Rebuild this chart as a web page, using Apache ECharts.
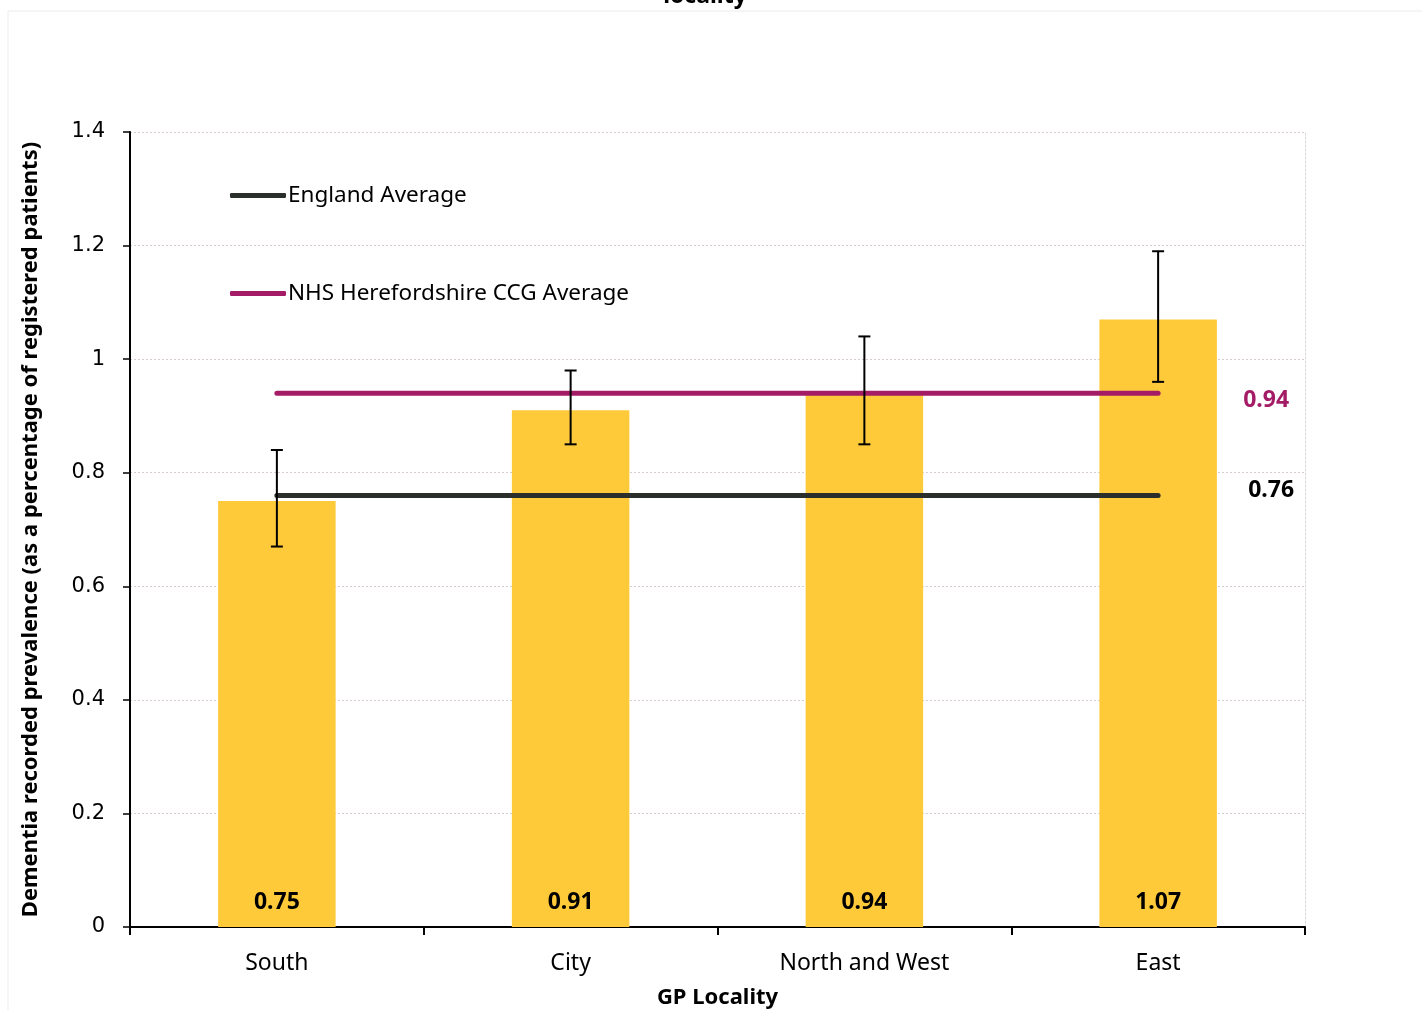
<!DOCTYPE html>
<html>
<head>
<meta charset="utf-8">
<script src="https://cdn.jsdelivr.net/npm/echarts@6/dist/echarts.min.js"></script>
<style>html,body{margin:0;padding:0;background:#fff}#c{width:1422px;height:1010px}</style>
</head>
<body>
<div id="c"></div>
<script>
var categories = ['South', 'City', 'North and West', 'East'];
var prevalence = [0.75, 0.91, 0.94, 1.07];
var ciLow = [0.67, 0.85, 0.85, 0.96];
var ciHigh = [0.84, 0.98, 1.04, 1.19];
var englandAvg = [0.76, 0.76, 0.76, 0.76];
var ccgAvg = [0.94, 0.94, 0.94, 0.94];
var yTicks = [0, 0.2, 0.4, 0.6, 0.8, 1, 1.2, 1.4];

var errData = categories.map(function (c, i) { return [i, ciLow[i], ciHigh[i]]; });

var chart = echarts.init(document.getElementById('c'), null, {renderer: 'canvas'});
chart.setOption({
  animation: false,
  graphic: [
    {type: 'rect', shape: {x: 8, y: 11, width: 1430, height: 1020}, style: {fill: 'none', stroke: '#ececec', lineWidth: 1}, silent: true},
    {type: 'text', x: 705, y: -4, style: {text: 'locality', font: 'bold 23px "Noto Sans"', fill: '#000', textAlign: 'center', textVerticalAlign: 'middle'}}
  ],
  grid: {left: 130, right: 117, top: 132, bottom: 83, containLabel: false, outerBoundsMode: 'none'},
  legend: {
    orient: 'vertical', left: 225, top: 179, itemGap: 75, itemWidth: 56, itemHeight: 5,
    icon: 'roundRect',
    textStyle: {fontFamily: 'Noto Sans', fontSize: 22.5, color: '#000', padding: [0, 0, 0, -3]},
    data: ['England Average', 'NHS Herefordshire CCG Average']
  },
  xAxis: {
    type: 'category', data: categories, boundaryGap: true,
    axisLine: {lineStyle: {color: '#000', width: 2}},
    axisTick: {show: true, length: 8, lineStyle: {color: '#000', width: 2}},
    axisLabel: {fontFamily: 'Noto Sans', fontSize: 23, color: '#000', margin: 25},
    name: 'GP Locality', nameLocation: 'middle', nameGap: 60,
    nameTextStyle: {fontFamily: 'Noto Sans', fontSize: 22, fontWeight: 'bold', color: '#000'}
  },
  yAxis: [{
    type: 'value', min: 0, max: 1.4, interval: 0.2,
    axisLine: {show: true, lineStyle: {color: '#000', width: 2}},
    axisTick: {show: true, length: 7, lineStyle: {color: '#000', width: 1.5}},
    axisLabel: {fontFamily: 'DejaVu Sans', fontSize: 21, color: '#000', margin: 25,
      formatter: function (v) { return String(Math.round(v * 10) / 10); }},
    splitLine: {show: true, lineStyle: {color: '#d8cccc', type: [2, 2], width: 1}},
    name: 'Dementia recorded prevalence (as a percentage of registered patients)',
    nameLocation: 'middle', nameGap: 88, nameRotate: 90,
    nameTextStyle: {fontFamily: 'Noto Sans', fontSize: 22, fontWeight: 'bold', color: '#000'}
  }, {
    type: 'value', min: 0, max: 1.4, interval: 0.2, position: 'right',
    axisLine: {show: true, lineStyle: {color: '#d8d8d8', type: [2, 2], width: 1}},
    axisTick: {show: false}, axisLabel: {show: false}, splitLine: {show: false}
  }],
  series: [
    {
      type: 'bar', data: prevalence, barWidth: '40%', z: 1,
      itemStyle: {color: '#FFCA3A'},
      label: {show: true, position: 'insideBottom', distance: 13, fontFamily: 'Noto Sans', fontSize: 23, fontWeight: 'bold', color: '#000',
        formatter: function (p) { return p.value.toFixed(2); }}
    },
    {
      name: 'England Average', type: 'line', data: englandAvg, symbol: 'none', z: 3,
      lineStyle: {color: '#2A2F2C', width: 5, cap: 'round'}, itemStyle: {color: '#2A2F2C'},
      endLabel: {show: true, offset: [82, -5], fontFamily: 'Noto Sans', fontSize: 23, fontWeight: 'bold', color: '#000',
        formatter: function (p) { return p.value.toFixed(2); }}
    },
    {
      name: 'NHS Herefordshire CCG Average', type: 'line', data: ccgAvg, symbol: 'none', z: 3,
      lineStyle: {color: '#A51C66', width: 5, cap: 'round'}, itemStyle: {color: '#A51C66'},
      endLabel: {show: true, offset: [77, 7], fontFamily: 'Noto Sans', fontSize: 23, fontWeight: 'bold', color: '#A51C66',
        formatter: function (p) { return p.value.toFixed(2); }}
    },
    {
      type: 'custom', data: errData, z: 4,
      renderItem: function (params, api) {
        var x = api.value(0);
        var lo = api.coord([x, api.value(1)]);
        var hi = api.coord([x, api.value(2)]);
        var w = 6;
        var st = {stroke: '#000', lineWidth: 2};
        return {type: 'group', children: [
          {type: 'line', shape: {x1: hi[0], y1: hi[1], x2: lo[0], y2: lo[1]}, style: st},
          {type: 'line', shape: {x1: hi[0] - w, y1: hi[1], x2: hi[0] + w, y2: hi[1]}, style: st},
          {type: 'line', shape: {x1: lo[0] - w, y1: lo[1], x2: lo[0] + w, y2: lo[1]}, style: st}
        ]};
      }
    }
  ]
});
</script>
</body>
</html>
